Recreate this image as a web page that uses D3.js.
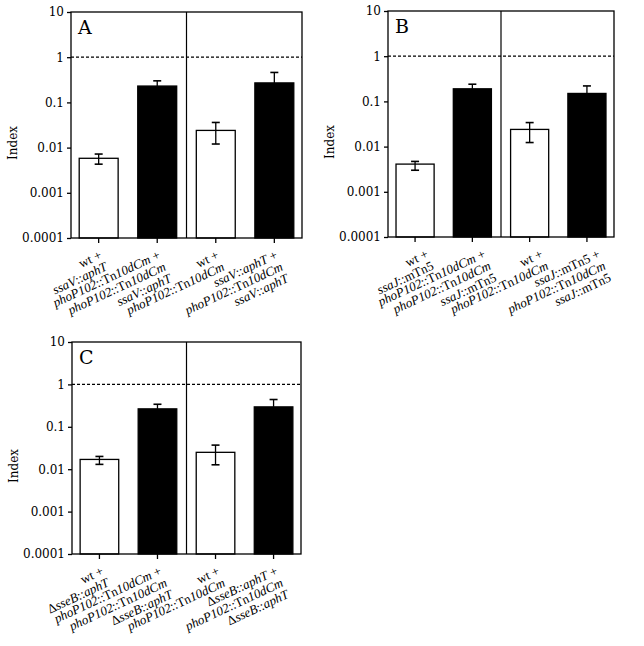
<!DOCTYPE html>
<html lang="en">
<head>
<meta charset="UTF-8">
<title>Competitive index panels A-C</title>
<script src="https://d3js.org/d3.v7.min.js"></script>
<style>
  body { margin: 0; background: #fff; }
  svg { display: block; font-family: "DejaVu Serif", serif; }
  .tick text { font-size: 12px; font-family: "DejaVu Serif", serif; }
  .xlab { font-size: 13px; font-family: "Liberation Serif", serif; }
</style>
</head>
<body>
<svg id="chart" width="644" height="646"></svg>
<script>
// y axis ticks shared by all panels
const yTicks = [0.0001, 0.001, 0.01, 0.1, 1, 10];
const yTickLabels = ["0.0001", "0.001", "0.01", "0.1", "1", "10"];

// bar order: white, black | white, black
const barFill = ["#fff", "#000", "#fff", "#000"];

// panel A
const valuesA = [0.0058, 0.23, 0.024, 0.27];
const errHighA = [0.0072, 0.30, 0.036, 0.46];
const errLowA = [0.0043, null, 0.012, null];
const labelsA = [
  ["wt +", "_ssaV_::_aphT_"],
  ["_phoP102_::Tn_10dCm_ +", "_phoP102_::Tn_10dCm_", "_ssaV_::_aphT_"],
  ["wt +", "_phoP102_::Tn_10dCm_"],
  ["_ssaV_::_aphT_ +", "_phoP102_::Tn_10dCm_", "_ssaV_::_aphT_"]
];

// panel B
const valuesB = [0.0041, 0.19, 0.024, 0.15];
const errHighB = [0.0047, 0.24, 0.034, 0.22];
const errLowB = [0.0030, null, 0.0123, null];
const labelsB = [
  ["wt +", "_ssaJ_::mTn5"],
  ["_phoP102_::Tn_10dCm_ +", "_phoP102_::Tn_10dCm_", "_ssaJ_::mTn5"],
  ["wt +", "_phoP102_::Tn_10dCm_"],
  ["_ssaJ_::mTn5 +", "_phoP102_::Tn_10dCm_", "_ssaJ_::mTn5"]
];

// panel C
const valuesC = [0.017, 0.265, 0.025, 0.295];
const errHighC = [0.020, 0.34, 0.037, 0.44];
const errLowC = [0.013, null, 0.0127, null];
const labelsC = [
  ["wt +", "Δ_sseB_::_aphT_"],
  ["_phoP102_::Tn_10dCm_ +", "_phoP102_::Tn_10dCm_", "Δ_sseB_::_aphT_"],
  ["wt +", "_phoP102_::Tn_10dCm_"],
  ["Δ_sseB_::_aphT_ +", "_phoP102_::Tn_10dCm_", "Δ_sseB_::_aphT_"]
];

// box = [left, right, top, bottom]; shift nudges the rotated labels
const panels = [
  { name: "A", values: valuesA, hi: errHighA, lo: errLowA, labels: labelsA, box: [71, 302, 12, 238], shift: 4 },
  { name: "B", values: valuesB, hi: errHighB, lo: errLowB, labels: labelsB, box: [388, 614, 11, 237], shift: 14 },
  { name: "C", values: valuesC, hi: errHighC, lo: errLowC, labels: labelsC, box: [72, 301, 342, 554], shift: 5 }
];

const svg = d3.select("#chart");

// "_x_" toggles italic
function addRich(textSel, str) {
  str.split("_").forEach((part, i) => {
    if (!part) return;
    textSel.append("tspan")
      .attr("font-style", i % 2 ? "italic" : "normal")
      .text(part);
  });
}

panels.forEach(p => {
  const [x0, x1, y0, y1] = p.box;
  const g = svg.append("g");

  const y = d3.scaleLog().domain([1e-4, 10]).range([y1, y0]);
  const x = d3.scaleBand().domain(d3.range(4)).range([x0, x1])
    .paddingInner(0.335).paddingOuter(0.14);

  // bars
  g.selectAll("rect.bar")
    .data(p.values)
    .join("rect")
    .attr("class", "bar")
    .attr("x", (d, i) => x(i))
    .attr("width", x.bandwidth())
    .attr("y", d => y(d))
    .attr("height", d => y1 - y(d))
    .attr("fill", (d, i) => barFill[i])
    .attr("stroke", "#000")
    .attr("stroke-width", 1.3);

  // error bars
  const cap = 4;
  p.values.forEach((v, i) => {
    const cx = x(i) + x.bandwidth() / 2;
    const top = y(p.hi[i]);
    const bot = p.lo[i] != null ? y(p.lo[i]) : y(v);
    g.append("line").attr("x1", cx).attr("x2", cx).attr("y1", top).attr("y2", bot)
      .attr("stroke", "#000").attr("stroke-width", 1.3);
    g.append("line").attr("x1", cx - cap).attr("x2", cx + cap).attr("y1", top).attr("y2", top)
      .attr("stroke", "#000").attr("stroke-width", 1.6);
    if (p.lo[i] != null) {
      g.append("line").attr("x1", cx - cap).attr("x2", cx + cap).attr("y1", bot).attr("y2", bot)
        .attr("stroke", "#000").attr("stroke-width", 1.6);
    }
  });

  // frame
  g.append("rect")
    .attr("x", x0).attr("y", y0)
    .attr("width", x1 - x0).attr("height", y1 - y0)
    .attr("fill", "none").attr("stroke", "#000").attr("stroke-width", 1.3);

  // divider between the two pairs
  const xd = (x(1) + x.bandwidth() + x(2)) / 2;
  g.append("line").attr("x1", xd).attr("x2", xd).attr("y1", y0).attr("y2", y1)
    .attr("stroke", "#000").attr("stroke-width", 1.2);

  // dashed reference line at index 1
  g.append("line")
    .attr("x1", x0).attr("x2", x1).attr("y1", y(1)).attr("y2", y(1))
    .attr("stroke", "#000").attr("stroke-width", 1.3)
    .attr("stroke-dasharray", "3,2");

  // axes
  const ya = g.append("g").attr("transform", `translate(${x0},0)`)
    .call(d3.axisLeft(y).tickValues(yTicks)
      .tickFormat((d, i) => yTickLabels[i]).tickSize(4).tickSizeOuter(0).tickPadding(3));
  ya.select(".domain").remove();
  ya.selectAll(".tick line").attr("stroke-width", 1.3);
  ya.selectAll("text").attr("fill", "#000");

  const xa = g.append("g").attr("transform", `translate(0,${y1})`)
    .call(d3.axisBottom(x).tickFormat("").tickSize(5).tickSizeOuter(0));
  xa.select(".domain").remove();
  xa.selectAll(".tick line").attr("stroke-width", 1.3);

  // category labels, rotated, right aligned
  p.labels.forEach((lines, i) => {
    const cx = x(i) + x.bandwidth() / 2;
    const t = g.append("text")
      .attr("class", "xlab")
      .attr("text-anchor", "end")
      .attr("transform", `translate(${cx + p.shift},${y1 + 20}) rotate(-25)`);
    lines.forEach((ln, j) => {
      const row = t.append("tspan").attr("x", 0).attr("dy", j ? 13 : 0);
      addRich(row, ln);
    });
  });

  // y title
  g.append("text")
    .attr("transform", `translate(${x0 - 54},${(y0 + y1) / 2 + 18}) rotate(-90)`)
    .attr("text-anchor", "middle")
    .attr("font-size", 12)
    .text("Index");

  // panel letter
  g.append("text")
    .attr("x", x0 + 7).attr("y", y0 + 22)
    .attr("font-size", 19)
    .text(p.name);
});
</script>
</body>
</html>
